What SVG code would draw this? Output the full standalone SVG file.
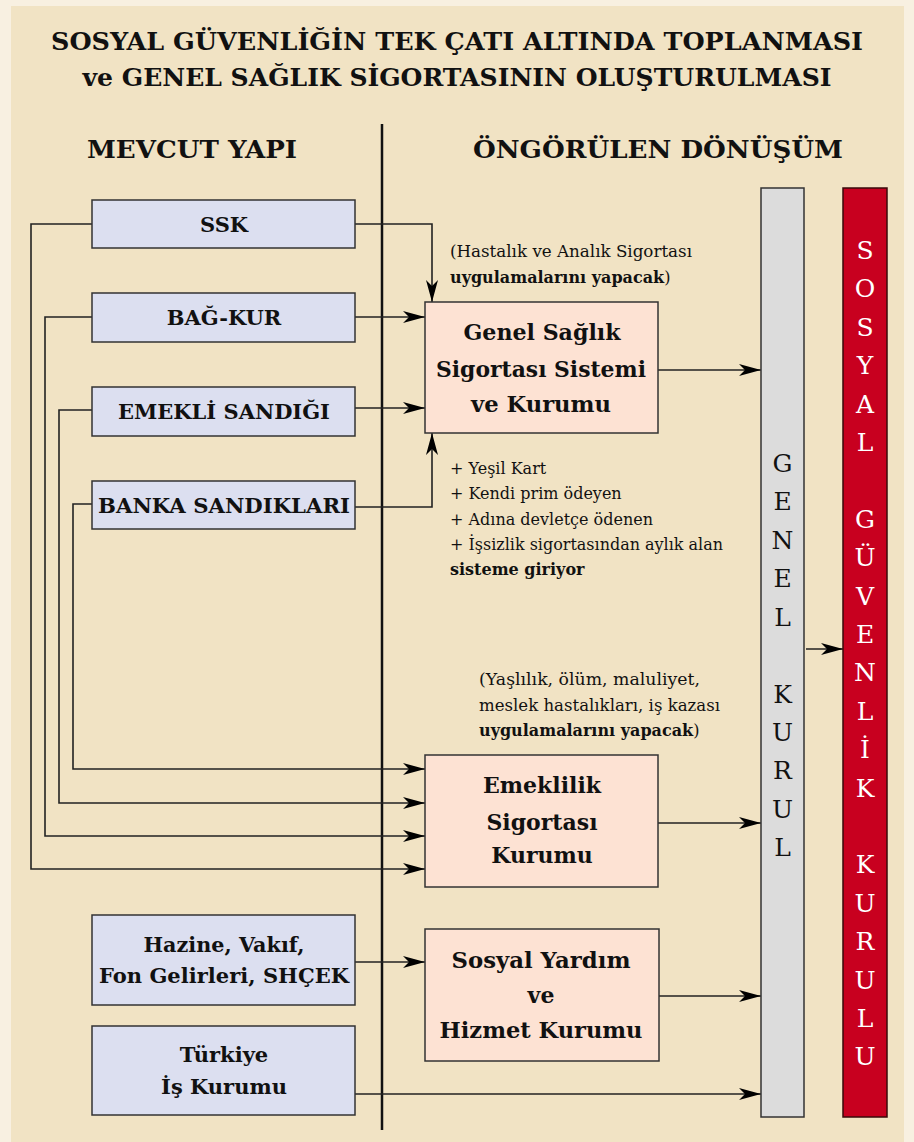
<svg xmlns="http://www.w3.org/2000/svg" width="914" height="1142" viewBox="0 0 914 1142">
<defs>
<style>
.t{font-family:"DejaVu Serif","Liberation Serif",serif;fill:#111}
.title{font-size:25px;font-weight:bold;text-anchor:middle}
.hdr{font-size:24px;font-weight:bold;text-anchor:middle}
.lb{font-size:21px;font-weight:bold;text-anchor:middle}
.pk{font-size:22px;font-weight:bold;text-anchor:middle}
.sm{font-size:16px}
.b{font-weight:bold}
.bar{font-size:25px;text-anchor:middle}
.w{fill:#ffffff}
.lbox{fill:#dcdff0;stroke:#333;stroke-width:1.5}
.pbox{fill:#fde2d3;stroke:#333;stroke-width:1.5}
.con{fill:none;stroke:#222;stroke-width:1.6;marker-end:url(#arr)}
</style>
<marker id="arr" markerUnits="userSpaceOnUse" markerWidth="22" markerHeight="12" refX="22" refY="6" orient="auto">
<path d="M0,0 L22,6 L0,12 L6,6 Z" fill="#000"/>
</marker>
</defs>
<rect x="0" y="0" width="914" height="1142" fill="#f8f0e1"/>
<rect x="11" y="6" width="893" height="1136" fill="#f1e3c4"/>

<g id="title">
<text class="t title" x="457" y="50" textLength="812" lengthAdjust="spacingAndGlyphs">SOSYAL GÜVENLİĞİN TEK ÇATI ALTINDA TOPLANMASI</text>
<text class="t title" x="457" y="86" textLength="749" lengthAdjust="spacingAndGlyphs">ve GENEL SAĞLIK SİGORTASININ OLUŞTURULMASI</text>
</g>
<g id="headers">
<text class="t hdr" x="192" y="158" textLength="210" lengthAdjust="spacingAndGlyphs">MEVCUT YAPI</text>
<text class="t hdr" x="658" y="158" textLength="370" lengthAdjust="spacingAndGlyphs">ÖNGÖRÜLEN DÖNÜŞÜM</text>
</g>
<line id="divider" x1="382" y1="124" x2="382" y2="1130" stroke="#111" stroke-width="2.5"/>

<g id="connectors">
<path class="con" d="M355,224 H432 V302"/>
<path class="con" d="M355,317 H425"/>
<path class="con" d="M355,408 H425"/>
<path class="con" d="M355,507 H432 V433"/>
<path class="con" d="M92,224 H31 V869 H425"/>
<path class="con" d="M92,317 H45 V836 H425"/>
<path class="con" d="M92,410 H59 V803 H425"/>
<path class="con" d="M92,504 H73 V769 H425"/>
<path class="con" d="M658,370 H761"/>
<path class="con" d="M658,823 H761"/>
<path class="con" d="M659,996 H761"/>
<path class="con" d="M355,1094 H761"/>
<path class="con" d="M355,962 H425"/>
<path class="con" d="M806,649 H843"/>
</g>

<g id="ssk">
<rect class="lbox" x="92" y="200" width="263" height="48"/>
<text class="t lb" x="224" y="232">SSK</text>
</g>
<g id="bagkur">
<rect class="lbox" x="92" y="293" width="263" height="49"/>
<text class="t lb" x="224" y="325">BAĞ-KUR</text>
</g>
<g id="emekli-sandigi">
<rect class="lbox" x="92" y="387" width="263" height="49"/>
<text class="t lb" x="224" y="419">EMEKLİ SANDIĞI</text>
</g>
<g id="banka-sandiklari">
<rect class="lbox" x="92" y="481" width="263" height="48"/>
<text class="t lb" x="224" y="513" textLength="252" lengthAdjust="spacingAndGlyphs">BANKA SANDIKLARI</text>
</g>
<g id="hazine">
<rect class="lbox" x="92" y="915" width="263" height="90"/>
<text class="t lb" x="224" y="952" textLength="161" lengthAdjust="spacingAndGlyphs">Hazine, Vakıf,</text>
<text class="t lb" x="224" y="983" textLength="250" lengthAdjust="spacingAndGlyphs">Fon Gelirleri, SHÇEK</text>
</g>
<g id="turkiye-is-kurumu">
<rect class="lbox" x="92" y="1026" width="263" height="89"/>
<text class="t lb" x="224" y="1062">Türkiye</text>
<text class="t lb" x="224" y="1094">İş Kurumu</text>
</g>

<g id="genel-saglik">
<rect class="pbox" x="425" y="302" width="233" height="131"/>
<text class="t pk" x="542" y="340" textLength="157" lengthAdjust="spacingAndGlyphs">Genel Sağlık</text>
<text class="t pk" x="541" y="377" textLength="210" lengthAdjust="spacingAndGlyphs">Sigortası Sistemi</text>
<text class="t pk" x="541" y="412" textLength="140" lengthAdjust="spacingAndGlyphs">ve Kurumu</text>
</g>
<g id="emeklilik">
<rect class="pbox" x="425" y="755" width="233" height="132"/>
<text class="t pk" x="542" y="793">Emeklilik</text>
<text class="t pk" x="542" y="830">Sigortası</text>
<text class="t pk" x="542" y="863">Kurumu</text>
</g>
<g id="sosyal-yardim">
<rect class="pbox" x="425" y="929" width="234" height="132"/>
<text class="t pk" x="541" y="968" textLength="179" lengthAdjust="spacingAndGlyphs">Sosyal Yardım</text>
<text class="t pk" x="541" y="1003">ve</text>
<text class="t pk" x="541" y="1038" textLength="203" lengthAdjust="spacingAndGlyphs">Hizmet Kurumu</text>
</g>

<g id="note-gss">
<text class="t sm" x="450" y="257" textLength="242" lengthAdjust="spacingAndGlyphs">(Hastalık ve Analık Sigortası</text>
<text class="t sm" x="450" y="283"><tspan class="b">uygulamalarını yapacak</tspan>)</text>
</g>
<g id="note-bullets">
<text class="t sm" x="450" y="474">+ Yeşil Kart</text>
<text class="t sm" x="450" y="499">+ Kendi prim ödeyen</text>
<text class="t sm" x="450" y="525">+ Adına devletçe ödenen</text>
<text class="t sm" x="450" y="550" textLength="273" lengthAdjust="spacingAndGlyphs">+ İşsizlik sigortasından aylık alan</text>
<text class="t sm b" x="450" y="575">sisteme giriyor</text>
</g>
<g id="note-emeklilik">
<text class="t sm" x="479" y="685" textLength="221" lengthAdjust="spacingAndGlyphs">(Yaşlılık, ölüm, maluliyet,</text>
<text class="t sm" x="479" y="711" textLength="241" lengthAdjust="spacingAndGlyphs">meslek hastalıkları, iş kazası</text>
<text class="t sm" x="479" y="736"><tspan class="b">uygulamalarını yapacak</tspan>)</text>
</g>

<g id="genel-kurul">
<rect x="761" y="188" width="43" height="929" fill="#dcdcdc" stroke="#333" stroke-width="1.5"/>
<text class="t bar" x="782.5" y="472">G</text>
<text class="t bar" x="782.5" y="510">E</text>
<text class="t bar" x="782.5" y="549">N</text>
<text class="t bar" x="782.5" y="587">E</text>
<text class="t bar" x="782.5" y="626">L</text>
<text class="t bar" x="782.5" y="703">K</text>
<text class="t bar" x="782.5" y="741">U</text>
<text class="t bar" x="782.5" y="779">R</text>
<text class="t bar" x="782.5" y="818">U</text>
<text class="t bar" x="782.5" y="856">L</text>
</g>
<g id="sosyal-guvenlik-kurulu">
<rect x="843" y="188" width="44" height="929" fill="#c8001f" stroke="#3a0a0a" stroke-width="1.5"/>
<text class="t bar w" x="865" y="259">S</text>
<text class="t bar w" x="865" y="297">O</text>
<text class="t bar w" x="865" y="336">S</text>
<text class="t bar w" x="865" y="374">Y</text>
<text class="t bar w" x="865" y="413">A</text>
<text class="t bar w" x="865" y="451">L</text>
<text class="t bar w" x="865" y="528">G</text>
<text class="t bar w" x="865" y="566">Ü</text>
<text class="t bar w" x="865" y="605">V</text>
<text class="t bar w" x="865" y="643">E</text>
<text class="t bar w" x="865" y="681">N</text>
<text class="t bar w" x="865" y="720">L</text>
<text class="t bar w" x="865" y="758">İ</text>
<text class="t bar w" x="865" y="797">K</text>
<text class="t bar w" x="865" y="873">K</text>
<text class="t bar w" x="865" y="912">U</text>
<text class="t bar w" x="865" y="950">R</text>
<text class="t bar w" x="865" y="989">U</text>
<text class="t bar w" x="865" y="1027">L</text>
<text class="t bar w" x="865" y="1065">U</text>
</g>
</svg>
